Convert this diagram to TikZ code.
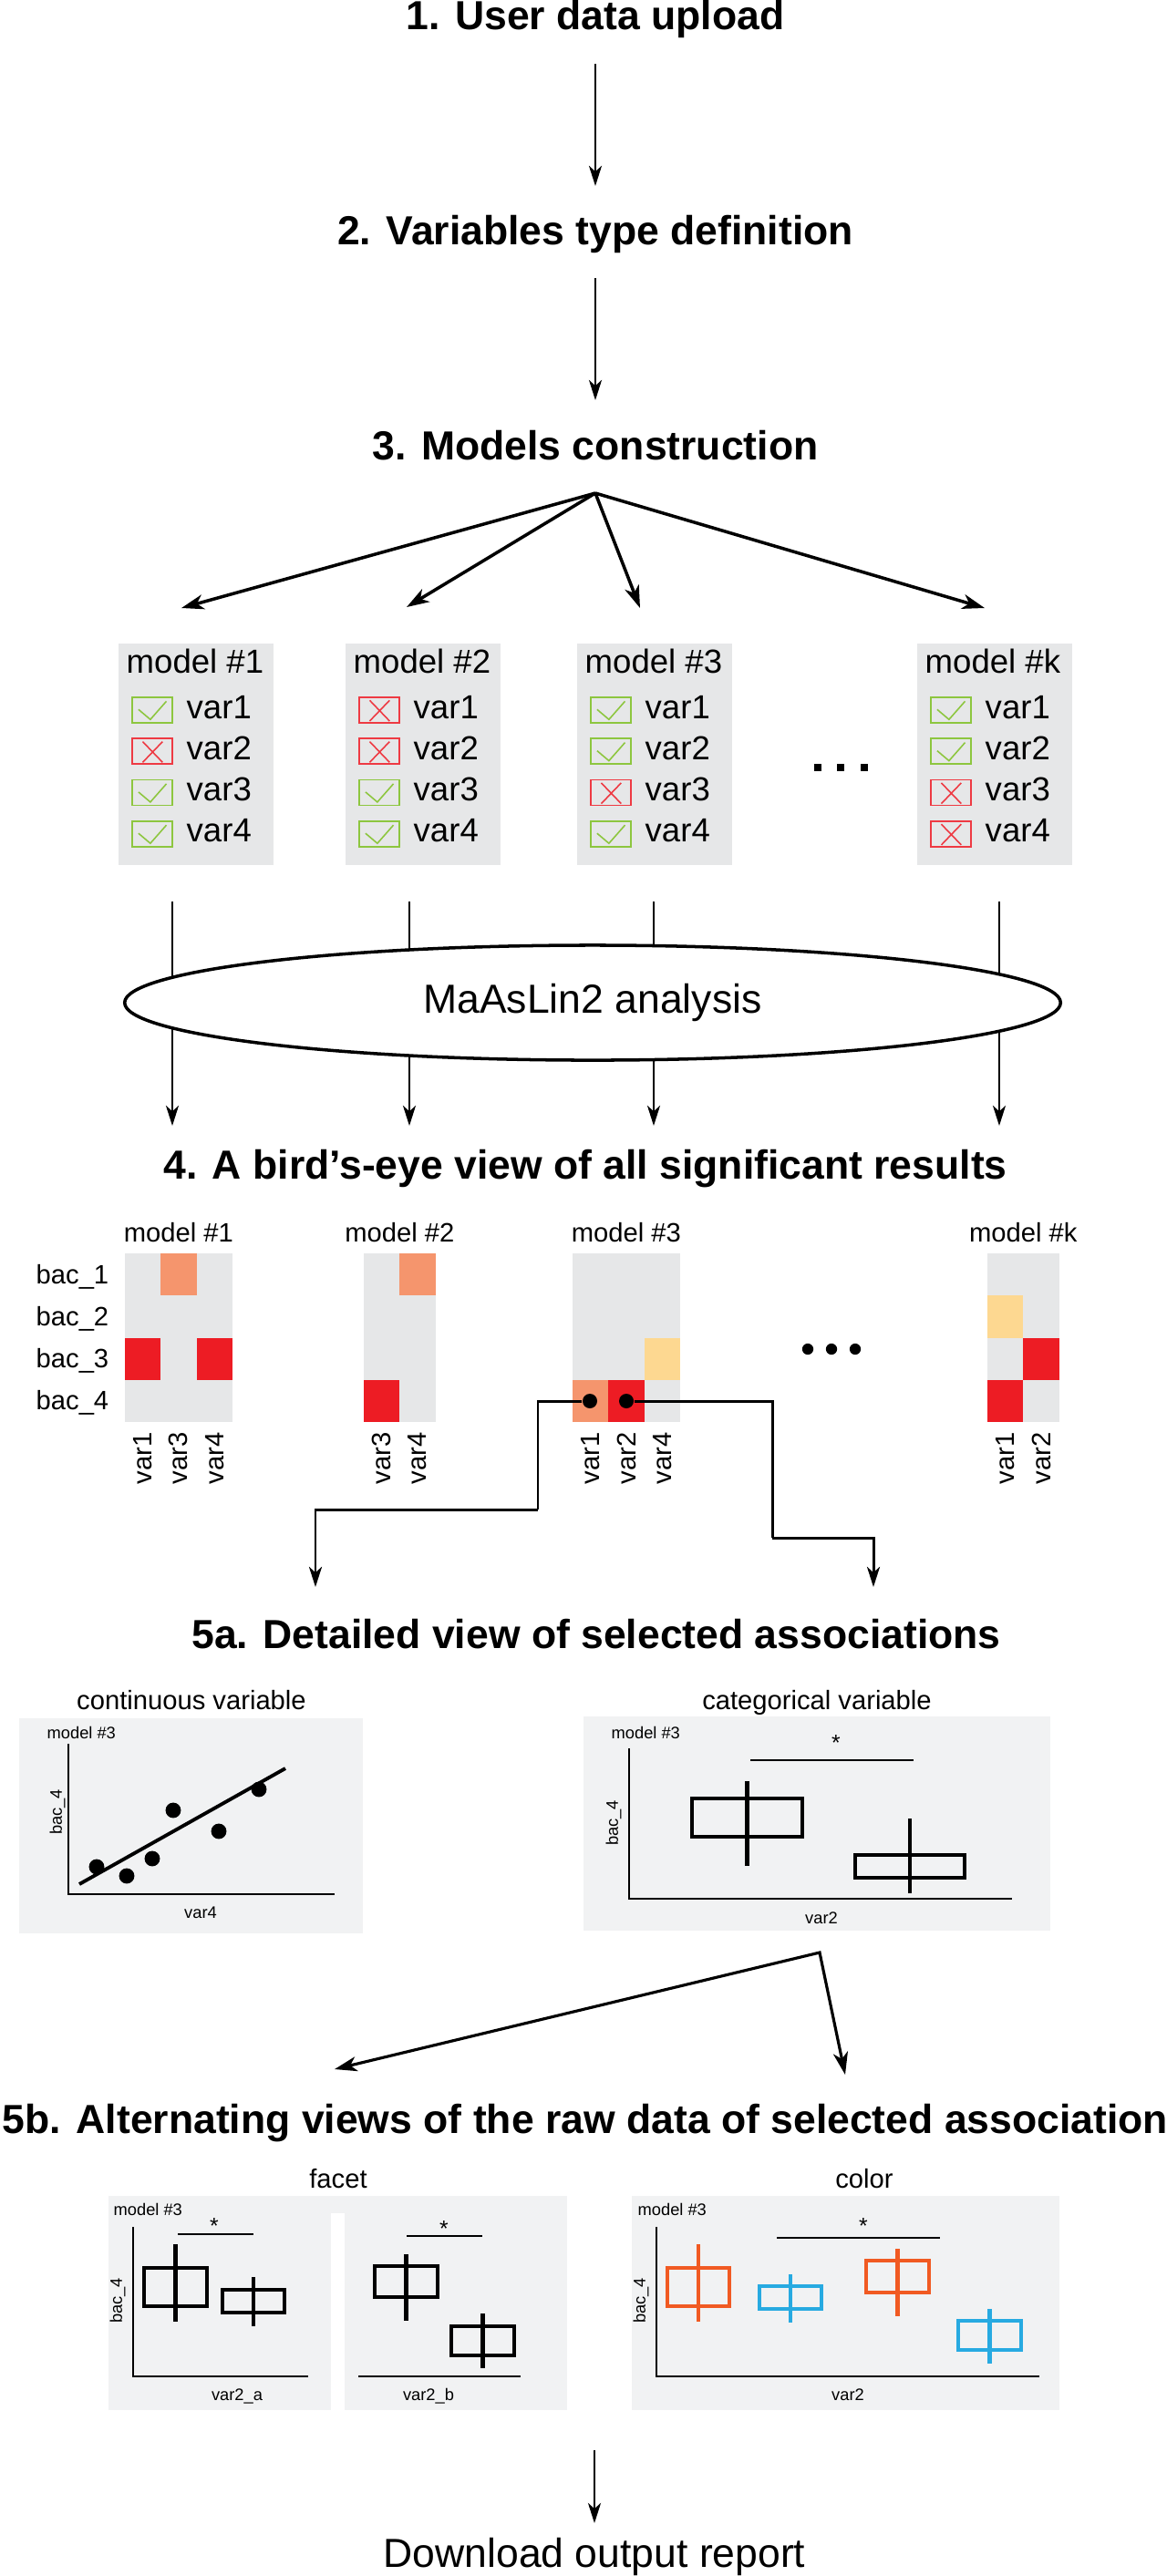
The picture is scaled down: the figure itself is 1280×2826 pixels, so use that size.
\documentclass[tikz,border=0pt]{standalone}
\usepackage{fontspec}
\setmainfont{Liberation Sans}
\usetikzlibrary{arrows.meta,shapes.geometric}

\definecolor{boxgray}{HTML}{E6E7E8}
\definecolor{panelgray}{HTML}{F1F2F3}
\definecolor{hmsalmon}{HTML}{F5956D}
\definecolor{hmred}{HTML}{ED1C24}
\definecolor{hmyellow}{HTML}{FDD891}
\definecolor{okgreen}{HTML}{8DC63F}
\definecolor{nored}{HTML}{EE3A43}
\definecolor{grporange}{HTML}{F15A22}
\definecolor{grpblue}{HTML}{27AAE1}

\begin{document}
\begin{tikzpicture}[x=0.01cm, y=-0.01cm, line join=miter,
  steptitle/.style={font=\fontsize{12.66}{15}\selectfont\bfseries, inner sep=0pt, anchor=base},
  bigtxt/.style={font=\fontsize{12.66}{15}\selectfont, inner sep=0pt},
  modeltxt/.style={font=\fontsize{10.4}{12}\selectfont, inner sep=0pt, anchor=base west},
  hmtxt/.style={font=\fontsize{8.3}{10}\selectfont, inner sep=0pt},
  plottxt/.style={font=\fontsize{5.2}{6}\selectfont, inner sep=0pt},
  startxt/.style={font=\fontsize{7}{8}\selectfont, inner sep=0pt, anchor=base},
  modelbox/.style={fill=boxgray, minimum width=1.7cm, minimum height=2.43cm, inner sep=0pt},
  thinarrow/.style={line width=0.65pt, -{Stealth[length=6.3pt, width=4pt, inset=1.8pt]}},
  fanarrow/.style={line width=1pt, -{Stealth[length=7pt, width=4.6pt, inset=2pt]}},
  linkline/.style={line width=0.85pt},
  biarrow/.style={line width=0.9pt, {Stealth[length=7pt, width=4.6pt, inset=2pt]}-{Stealth[length=7pt, width=4.6pt, inset=2pt]}},
  seldot/.style={circle, fill=black, minimum size=0.16cm, inner sep=0pt},
  axisline/.style={line width=0.55pt},
  fitline/.style={line width=1.1pt},
  sigline/.style={line width=0.4pt},
  boxline/.style={line width=1.2pt}]

% -----------------------------
% Canvas
% -----------------------------
\useasboundingbox (0,0) rectangle (1280,2826);

% small helpers
\def\chkbox#1#2{%
  \begin{scope}[shift={(#1,#2)}]
    \draw[okgreen, line width=0.5pt] (0,0) rectangle (44,28);
    \draw[okgreen, line width=0.45pt] (6.9,13.3) -- (19.9,24.3) -- (37.5,4.3);
  \end{scope}}
\def\crossbox#1#2{%
  \begin{scope}[shift={(#1,#2)}]
    \draw[nored, line width=0.5pt] (0,0) rectangle (44,28);
    \draw[nored, line width=0.45pt] (11.5,3.3) -- (33.3,26) (11.5,26) -- (33.3,3.3);
  \end{scope}}
\def\bxp#1#2#3#4#5#6#7{% colour, x1, y1, x2, y2, whisker top, whisker bottom
  \draw[boxline, #1] (#2,#3) rectangle (#4,#5);
  \draw[boxline, #1] ({(#2+#4)/2},#6) -- ({(#2+#4)/2},#7);}

% -----------------------------
% Steps 1-3
% -----------------------------
\node[steptitle] (t1) at (653,32) {1. User data upload};
\node[steptitle] (t2) at (653,268) {2. Variables type definition};
\node[steptitle] (t3) at (653,504) {3. Models construction};

\draw[thinarrow] (t1.south |- 0,70) -- (t2.north |- 0,204);
\draw[thinarrow] (t2.south |- 0,305) -- (t3.north |- 0,439);

% fan out to the models
\coordinate (fan) at (653,541);
\coordinate (in1) at (199,667);
\coordinate (in2) at (446,666);
\coordinate (in3) at (702,667);
\coordinate (ink) at (1080,667);
\foreach \m in {1,2,3,k}
  \draw[fanarrow] (fan) -- (in\m);

% -----------------------------
% Model boxes with variable checks
% -----------------------------
\foreach \mx/\mn/\ca/\cb/\cc/\cd in {130/1/1/0/1/1, 379/2/0/0/1/1, 633/3/1/1/0/1, 1006/k/1/1/0/0} {
  \node[modelbox] (m\mn) at (\mx+85,827.5) {};
  \node[modeltxt] (m\mn-lab) at (\mx+8,738) {model \#\mn};
  \foreach \r/\f in {1/\ca, 2/\cb, 3/\cc, 4/\cd} {
    \pgfmathsetmacro{\ry}{765+(\r-1)*45.3}
    \ifnum\f=1 \chkbox{\mx+15}{\ry}\else\crossbox{\mx+15}{\ry}\fi
    \node[modeltxt] (m\mn-v\r) at (\mx+74,\ry+23) {var\r};
  }
}
\foreach \dx in {897,922,948}
  \fill (\dx-4,838) rectangle ++(8,8);

% -----------------------------
% MaAsLin2 (lines first, ellipse on top)
% -----------------------------
\foreach \lx/\i in {189/1, 449/2, 717/3, 1096/k} {
  \coordinate (ls\i) at (\lx,989);
  \coordinate (le\i) at (\lx,1235);
  \draw[thinarrow] (ls\i) -- (le\i);
}
\node[ellipse, draw, line width=1pt, fill=white, minimum width=10.26cm, minimum height=1.26cm,
      font=\fontsize{12.66}{15}\selectfont] (maas) at (650,1100) {MaAsLin2 analysis};

% -----------------------------
% Step 4: heatmaps
% -----------------------------
\node[steptitle] (t4) at (642,1293) {4. A bird's-eye view of all significant results};

\def\cw{39.3}
\def\ch{46.25}
\def\hy{1375}
\foreach \hx/\nc/\hn in {137/3/1, 399/2/2, 628/3/3, 1083/2/k} {
  \fill[boxgray] (\hx,\hy) rectangle ++(\nc*\cw,4*\ch);
  \node[hmtxt, anchor=base] (h\hn-lab) at (\hx+\nc*\cw/2,1362) {model \#\hn};
}
\foreach \hx/\c/\r/\col in {137/2/1/hmsalmon, 137/1/3/hmred, 137/3/3/hmred,
                            399/2/1/hmsalmon, 399/1/4/hmred,
                            628/3/3/hmyellow, 628/1/4/hmsalmon, 628/2/4/hmred,
                            1083/1/2/hmyellow, 1083/2/3/hmred, 1083/1/4/hmred}
  \fill[\col] ({\hx+(\c-1)*\cw},{\hy+(\r-1)*\ch}) rectangle ++(\cw,\ch);

\foreach \r in {1,...,4}
  \node[hmtxt, anchor=base west] (bac\r) at (39,{\hy+(\r-0.5)*\ch+10}) {bac\_\r};
\foreach \hx/\c/\v in {137/1/1, 137/2/3, 137/3/4, 399/1/3, 399/2/4,
                       628/1/1, 628/2/2, 628/3/4, 1083/1/1, 1083/2/2}
  \node[hmtxt, rotate=90, anchor=east] (tk\hx-\c) at ({\hx+(\c-0.5)*\cw},1571) {var\v};

\foreach \dx in {886,912,938}
  \fill (\dx,1480) circle[radius=1.75pt];

% selected associations
\node[seldot] (d1) at (647,1537) {};
\node[seldot] (d2) at (687,1537) {};
\coordinate (t5aL) at (346,1741);
\coordinate (t5aR) at (958,1741);
\draw[linkline] (d1) -| (590,1656);
\draw[linkline, -{Stealth[length=6.3pt, width=4pt, inset=1.8pt]}] (590,1656) -| (t5aL);
\draw[linkline] (d2) -| (847,1687);
\draw[linkline, -{Stealth[length=6.3pt, width=4pt, inset=1.8pt]}] (847,1687) -| (t5aR);

% -----------------------------
% Step 5a: detailed views
% -----------------------------
\node[steptitle] (t5a) at (654,1808) {5a. Detailed view of selected associations};

% continuous
\node[hmtxt, anchor=base] (cont) at (210,1875) {continuous variable};
\fill[panelgray] (21,1885) rectangle (398,2121);
\node[plottxt, anchor=base west] (p1-m) at (51,1907) {model \#3};
\draw[axisline] (75,1913) -- (75,2078) -- (367,2078);
\node[plottxt, rotate=90] (p1-y) at (63,1988) {bac\_4};
\node[plottxt, anchor=base] (p1-x) at (220,2104) {var4};
\draw[fitline] (87,2067) -- (313,1940);
\foreach \px/\py in {106/2048, 139/2058, 167/2039, 190/1986, 240/2009, 284/1963}
  \fill (\px,\py) circle[radius=2.4pt];

% categorical
\node[hmtxt, anchor=base] (cat) at (896,1875) {categorical variable};
\fill[panelgray] (640,1883) rectangle (1152,2118);
\node[plottxt, anchor=base west] (p2-m) at (670,1907) {model \#3};
\draw[axisline] (690,1918) -- (690,2083) -- (1110,2083);
\node[plottxt, rotate=90] (p2-y) at (673,2000) {bac\_4};
\node[plottxt, anchor=base] (p2-x) at (901,2110) {var2};
\node[startxt] (p2-s) at (917,1920) {*};
\draw[sigline] (823,1931) -- (1002,1931);
\bxp{black}{759}{1973}{880}{2015}{1954}{2047}
\bxp{black}{938}{2035}{1058}{2060}{1995}{2077}

% to the alternate views
\coordinate (apex) at (899,2142);
\coordinate (t5bL) at (367,2270);
\coordinate (t5bR) at (927,2276);
\draw[biarrow] (t5bL) -- (apex) -- (t5bR);

% -----------------------------
% Step 5b: raw data views
% -----------------------------
\node[steptitle] (t5b) at (642,2340) {5b. Alternating views of the raw data of selected association};

% facet
\node[hmtxt, anchor=base] (facet) at (371,2400) {facet};
\fill[panelgray] (119,2409) rectangle (622,2644);
\fill[white] (363,2428) rectangle (378,2645);
\node[plottxt, anchor=base west] (p3-m) at (124,2430) {model \#3};
\draw[axisline] (146,2443) -- (146,2607) -- (338,2607);
\node[plottxt, rotate=90] (p3-y) at (129,2524) {bac\_4};
\node[startxt] (p3-s) at (235,2450) {*};
\draw[sigline] (195,2451) -- (278,2451);
\bxp{black}{158}{2488}{227}{2530}{2462}{2547}
\bxp{black}{244}{2512}{312}{2537}{2498}{2552}
\node[plottxt, anchor=base] (p3-x) at (260,2633) {var2\_a};

\draw[axisline] (393,2607) -- (571,2607);
\node[startxt] (p4-s) at (487,2453) {*};
\draw[sigline] (446,2453) -- (529,2453);
\bxp{black}{411}{2486}{480}{2520}{2473}{2546}
\bxp{black}{495}{2552}{564}{2584}{2538}{2598}
\node[plottxt, anchor=base] (p4-x) at (470,2633) {var2\_b};

% color
\node[hmtxt, anchor=base] (color) at (948,2400) {color};
\fill[panelgray] (693,2409) rectangle (1162,2644);
\node[plottxt, anchor=base west] (p5-m) at (699,2430) {model \#3};
\draw[axisline] (720,2443) -- (720,2607) -- (1140,2607);
\node[plottxt, rotate=90] (p5-y) at (703,2524) {bac\_4};
\node[startxt] (p5-s) at (947,2450) {*};
\draw[sigline] (852,2455) -- (1031,2455);
\bxp{grporange}{732}{2488}{800}{2530}{2462}{2547}
\bxp{grpblue}{833}{2508}{901}{2533}{2495}{2548}
\bxp{grporange}{950}{2480}{1019}{2515}{2467}{2541}
\bxp{grpblue}{1051}{2546}{1120}{2578}{2533}{2593}
\node[plottxt, anchor=base] (p5-x) at (930,2633) {var2};

% -----------------------------
% Report
% -----------------------------
\node[bigtxt, anchor=base] (dl) at (652,2816) {Download output report};
\draw[thinarrow] (dl.north |- 0,2688) -- (dl.north |- 0,2768);

\end{tikzpicture}
\end{document}
